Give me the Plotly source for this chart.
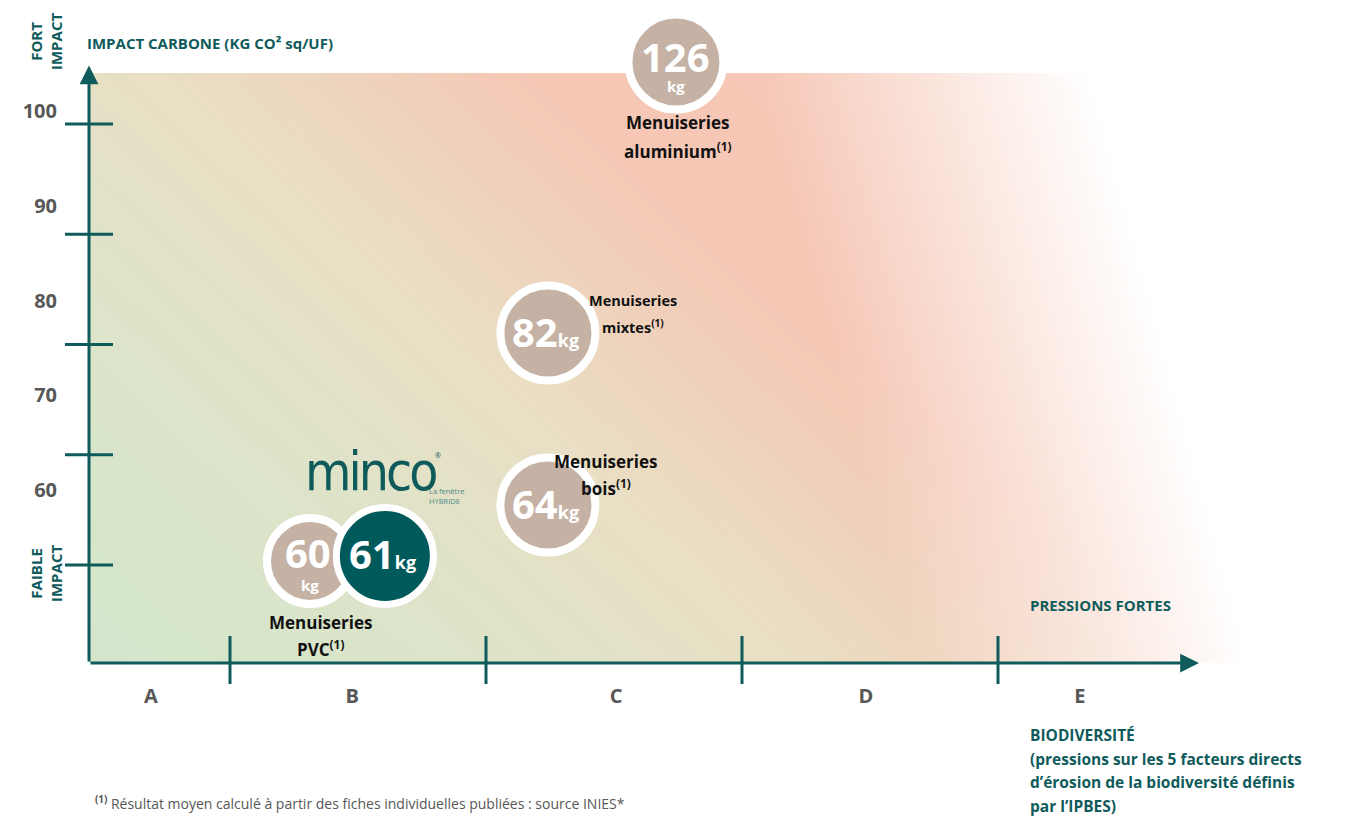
import base64, struct, zlib
import numpy as np
import plotly.graph_objects as go

# ---------------- data ----------------
products = ["Menuiseries aluminium", "Menuiseries mixtes", "Menuiseries bois", "Menuiseries PVC", "MINCO"]
carbon_kg = [126, 82, 64, 60, 61]
# position on the biodiversity axis (1..4 = boundaries between classes A|B|C|D|E)
biodiv_pos = [2.742, 2.242, 2.242, 1.3125, 1.605]
# position on the carbon axis as drawn (aluminium is capped above the frame)
carbon_pos = [105.62, 81.04, 65.44, 60.36, 60.82]
short_names = ["aluminium", "mixtes", "bois", "PVC", ""]

class_labels = ["A", "B", "C", "D", "E"]
class_label_pos = [0.691, 1.477, 2.508, 3.484, 4.32]
class_bounds = [1, 2, 3, 4]
carbon_ticks = [60, 70, 80, 90, 100]

# ---------------- style ----------------
W, H = 1347, 816
TEAL = "#0f5b5c"
TAUPE = "#c5b2a5"
GRAY = "#575757"
FONT = "Open Sans"

X0, Y0 = 0.44922, 51.111         # axis origin
XRANGE = [0.10156, 5.36328]
YRANGE = [37.234, 111.247]
YLAB_RANGE = [25.594, 111.715]


def png_uri(arr):
    h, w, _ = arr.shape
    raw = b"".join(b"\x00" + arr[i].tobytes() for i in range(h))

    def chunk(t, d):
        c = struct.pack(">I", len(d)) + t + d
        return c + struct.pack(">I", zlib.crc32(t + d) & 0xffffffff)

    png = (b"\x89PNG\r\n\x1a\n" + chunk(b"IHDR", struct.pack(">IIBBBBB", w, h, 8, 2, 0, 0, 0))
           + chunk(b"IDAT", zlib.compress(raw, 9)) + chunk(b"IEND", b""))
    return "data:image/png;base64," + base64.b64encode(png).decode()


# background gradient (decoration)
gx0, gx1, gy0, gy1 = 89, 1245, 73, 663
gw, gh = 289, 148
Xp = gx0 + (np.arange(gw) + 0.5) * (gx1 - gx0) / gw
Yp = gy0 + (np.arange(gh) + 0.5) * (gy1 - gy0) / gh
XX, YY = np.meshgrid(Xp, Yp)
u = (XX - 89) / 1151
v = (663 - YY) / 590
t = u + 0.55 * v
stops_t = [0.0, 0.35, 0.62, 0.95, 2.0]
stops_c = np.array([[211, 231, 204], [222, 228, 201], [234, 223, 196], [246, 199, 181], [248, 204, 188]], float)
col = np.stack([np.interp(t, stops_t, stops_c[:, k]) for k in range(3)], axis=-1)
edge = 1085 + (YY - 73) / 590 * 160
f = np.clip((edge - XX) / 330, 0, 1)
col = 255 - (255 - col) * f[..., None]
img = np.clip(col, 0, 255).astype(np.uint8)

fig = go.Figure()

# invisible trace for the label axis
fig.add_trace(go.Scatter(x=[None], y=[None], yaxis="y2", showlegend=False, hoverinfo="skip"))

# bubbles
taupe_idx = [0, 1, 2, 3]
fig.add_trace(go.Scatter(
    x=[biodiv_pos[i] for i in taupe_idx], y=[carbon_pos[i] for i in taupe_idx],
    mode="markers", showlegend=False, hoverinfo="skip",
    marker=dict(size=[95, 95, 95, 86], color=TAUPE, line=dict(color="white", width=8), opacity=1),
))
fig.add_trace(go.Scatter(
    x=[biodiv_pos[4]], y=[carbon_pos[4]], mode="markers", showlegend=False, hoverinfo="skip",
    marker=dict(size=97, color="#005a5b", line=dict(color="white", width=7), opacity=1),
))

shapes = []
# y tick marks
for tv in carbon_ticks:
    shapes.append(dict(type="line", xref="x", yref="y", xsizemode="pixel", xanchor=X0,
                       x0=-24, x1=24, y0=tv, y1=tv, line=dict(color=TEAL, width=3)))
# x tick marks
for b in class_bounds:
    shapes.append(dict(type="line", xref="x", yref="y", ysizemode="pixel", yanchor=Y0,
                       y0=-21, y1=27, x0=b, x1=b, line=dict(color=TEAL, width=3)))

ann = []
# axes arrows
ann.append(dict(x=X0, y=105.3, ax=X0, ay=Y0, xref="x", yref="y", axref="x", ayref="y", text="",
                showarrow=True, arrowhead=2, arrowsize=1.25, arrowwidth=3, arrowcolor=TEAL, standoff=0))
ann.append(dict(x=4.785, y=Y0, ax=X0, ay=Y0, xref="x", yref="y", axref="x", ayref="y", text="",
                showarrow=True, arrowhead=2, arrowsize=1.25, arrowwidth=3, arrowcolor=TEAL, standoff=0))


def txt(x, y, text, size, color, bold=True, xanchor="center", xref="x", yref="y", xs=0, ys=0, **kw):
    d = dict(x=x, y=y, xref=xref, yref=yref, text=text, showarrow=False, xanchor=xanchor, yanchor="middle",
             xshift=xs, yshift=ys, font=dict(family=FONT, size=size, color=color, weight=700 if bold else 400))
    d.update(kw)
    ann.append(d)


# bubble values
for i in [0, 3]:
    txt(biodiv_pos[i], carbon_pos[i], str(carbon_kg[i]), 40, "white", xs=0 if i == 0 else -2, ys=6 if i == 0 else 9)
    txt(biodiv_pos[i], carbon_pos[i], "kg", 15, "white", xs=0, ys=-24)
for i in [1, 2, 4]:
    txt(biodiv_pos[i], carbon_pos[i],
        f"{carbon_kg[i]}<span style='font-size:18px'>kg</span>", 40, "white", xs=-2, ys=2)

# product labels
lab_shift = {0: (2, -60, 2, -88, 17), 1: (85, 33, 85, 7, 14.5), 2: (58, 44, 58, 18, 17), 3: (11, -61, 10, -87, 17)}
for i, (a, b, c, d, s) in lab_shift.items():
    txt(biodiv_pos[i], carbon_pos[i], "Menuiseries", s, "#111111", xs=a, ys=b)
    txt(biodiv_pos[i], carbon_pos[i], f"{short_names[i]}<sup>(1)</sup>", s, "#111111", xs=c, ys=d)

# minco logo (approximation with text)
txt(biodiv_pos[4], carbon_pos[4], "<span style='letter-spacing:-3px'>minco</span>", 53, TEAL, bold=False,
    xs=-14, ys=84,
    font=dict(family="DejaVu Sans Condensed, sans-serif", size=53, color=TEAL))
txt(biodiv_pos[4], carbon_pos[4], "®", 7, TEAL, bold=False, xs=53, ys=100)
txt(biodiv_pos[4], carbon_pos[4], "La fenêtre<br>HYBRIDE", 7.5, "#4f8a8a", bold=False, xanchor="left",
    xs=42, ys=60, align="left")

# axis titles
txt(85 / W, 1 - 43 / H, "IMPACT CARBONE (KG CO² sq/UF)", 15, TEAL, xanchor="left", xref="paper", yref="paper")
txt(46 / W, 1 - 42 / H, "FORT<br>IMPACT", 15, TEAL, xref="paper", yref="paper", textangle=-90)
txt(46 / W, 1 - 574 / H, "FAIBLE<br>IMPACT", 15, TEAL, xref="paper", yref="paper", textangle=-90)
txt(1028 / W, 1 - 605 / H, "PRESSIONS FORTES", 15, TEAL, xanchor="left", xref="paper", yref="paper")
bio_lines = ["BIODIVERSITÉ", "(pressions sur les 5 facteurs directs", "d’érosion de la biodiversité définis", "par l’IPBES)"]
for k, line in enumerate(bio_lines):
    txt(1028 / W, 1 - (735 + k * 23.7) / H, line, 15.5, TEAL, xanchor="left", xref="paper", yref="paper")
txt(93 / W, 1 - 803 / H, "<b><sup>(1)</sup></b> Résultat moyen calculé à partir des fiches individuelles publiées : source INIES*",
    14, GRAY, bold=False, xanchor="left", xref="paper", yref="paper")

fig.update_layout(
    width=W, height=H, margin=dict(l=0, r=0, t=0, b=0),
    paper_bgcolor="white", plot_bgcolor="rgba(0,0,0,0)", showlegend=False,
    xaxis=dict(range=XRANGE, anchor="free", position=(816 - 682) / 816, tickvals=class_label_pos,
               ticktext=class_labels, ticks="", showline=False, showgrid=False, zeroline=False, fixedrange=True,
               tickfont=dict(family=FONT, size=20, color=GRAY, weight=700)),
    yaxis=dict(range=YRANGE, visible=False, fixedrange=True),
    yaxis2=dict(range=YLAB_RANGE, overlaying="y", anchor="free", position=57 / W, side="left",
                tickvals=carbon_ticks, ticks="", showline=False, showgrid=False, zeroline=False, fixedrange=True,
                tickfont=dict(family=FONT, size=20, color=GRAY, weight=700)),
    shapes=shapes, annotations=ann,
    images=[dict(source=png_uri(img), xref="paper", yref="paper", x=gx0 / W, y=1 - gy0 / H,
                 sizex=(gx1 - gx0) / W, sizey=(gy1 - gy0) / H, xanchor="left", yanchor="top",
                 sizing="stretch", layer="below")],
)

fig.write_html("out.html", config={"displayModeBar": False},
               post_script="document.body.style.margin='0px';")
